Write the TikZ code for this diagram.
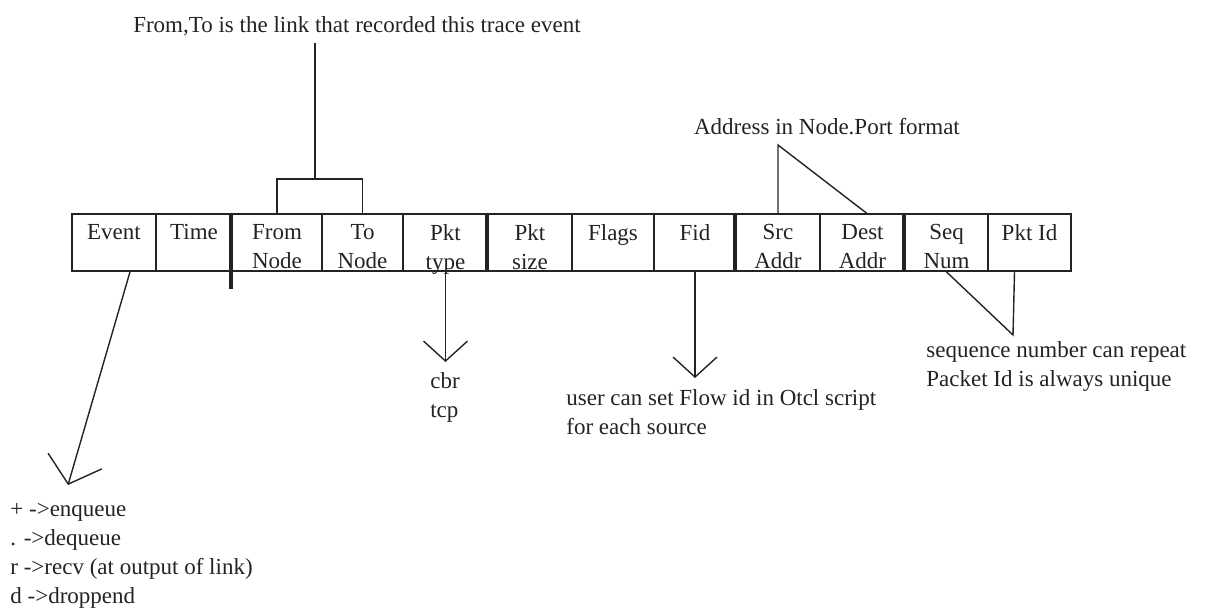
\documentclass[tikz,border=0pt]{standalone}
\usepackage{fontspec}
\setmainfont{Liberation Serif}
\usepackage{tikz}
\usetikzlibrary{positioning,arrows.meta}
\definecolor{ink}{RGB}{35,35,35}

\begin{document}
\begin{tikzpicture}[x=0.5pt,y=-0.5pt,
  every node/.style={text=ink, font=\fontsize{11.5}{14.5}\selectfont},
  cell/.style={draw=ink, line width=0.9pt, minimum height=28.5pt, inner sep=0pt},
  fieldtext/.style={anchor=north, align=center, inner sep=2.5pt, yshift=-3pt},
  note/.style={align=left, inner sep=0pt},
  sepline/.style={draw=ink, line width=1.8pt},
  link/.style={draw=ink, line width=0.7pt},
  vee/.style={link, -{Straight Barb[length=10pt,width=22pt]}}]
  \useasboundingbox (0,0) rectangle (1214,610);

  % trace record fields
  \foreach \a/\b/\n/\t in {72/156/event/Event, 156/232/time/Time,
      232/322/fromnode/From\\Node, 322/403/tonode/To\\Node,
      403/488/pkttype/Pkt\\type, 488/572/pktsize/Pkt\\size,
      572/654/flags/Flags, 654/736/fid/Fid,
      736/820/srcaddr/Src\\Addr, 820/905/destaddr/Dest\\Addr,
      905/988/seqnum/Seq\\Num, 988/1071/pktid/Pkt Id}
  {
    \node[cell, minimum width={(\b-\a)*0.5pt}] (\n) at ({(\a+\b)/2},242.5) {};
    \node[fieldtext] (\n-txt) at (\n.north) {\t};
  }
  \draw[sepline] (fromnode.north west) -- ++(0,76);
  \draw[sepline] (pktsize.north west) -- (pktsize.south west);
  \draw[sepline] (srcaddr.north west) -- (srcaddr.south west);
  \draw[sepline] (seqnum.north west) -- (seqnum.south west);

  % notes
  \node (linknote) at (357,26) {From,To is the link that recorded this trace event};
  \node (addrnote) at (827,127) {Address in Node.Port format};
  \node[note, anchor=north west] (evnote) at (10,503)
    {+ ->enqueue\\. ->dequeue\\r ->recv (at output of link)\\d ->droppend};
  \node[note, anchor=north] (typenote) at (445,372) {cbr\\tcp};
  \node[note, anchor=north west] (fidnote) at (566,389)
    {user can set Flow id in Otcl script\\for each source};
  \node[note, anchor=north west] (seqnote) at (926,341)
    {sequence number can repeat\\Packet Id is always unique};

  \coordinate (brk) at (315,179);
  \coordinate (addrtip) at (778,145);
  \coordinate (evtip) at (68,485);
  \coordinate (pkttip) at (445.5,362);
  \coordinate (fidtip) at (695,378);
  \coordinate (seqjoin) at (1013,335);

  % connectors
  \draw[link] (fromnode.north) |- (brk) -| (tonode.north);
  \draw[link] (brk) -- (brk |- linknote.south);
  \draw[link] (srcaddr.north) -- (addrtip) -- ([xshift=2pt]destaddr.north);
  \draw[vee, -{Straight Barb[length=12pt,width=28pt]}] ([xshift=8pt]event.south) -- (evtip);
  \draw[vee] (pkttype.south) -- (pkttip);
  \draw[vee] (fid.south) -- (fidtip);
  \draw[link] (seqnum.south) -- (seqjoin) -- ([xshift=-7.5pt]pktid.south);
\end{tikzpicture}
\end{document}
